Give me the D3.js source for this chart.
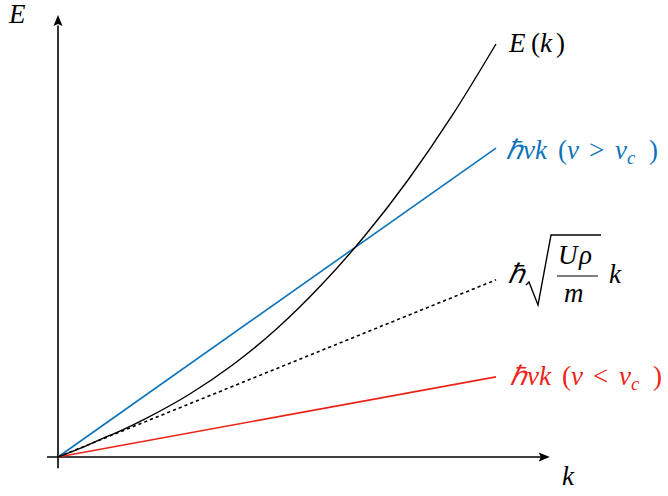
<!DOCTYPE html>
<html>
<head>
<meta charset="utf-8">
<script src="https://cdn.jsdelivr.net/npm/d3@7"></script>
<style>
  html, body { margin: 0; padding: 0; background: #fff; }
  svg { display: block; }
</style>
</head>
<body>
<svg id="chart" width="668" height="496"></svg>
<script>
// Wavenumber samples and the dispersion E(k)
const kSamples = [0, 0.05, 0.1, 0.15, 0.2, 0.3, 0.4, 0.5, 0.6, 0.7, 0.8, 0.9, 1.0];
const energySamples = [0, 0.021, 0.044, 0.067, 0.093, 0.152, 0.224, 0.311, 0.415, 0.535, 0.672, 0.827, 1.0];

// Linear branches E = slope * k
const lineNames = ["fast", "sound", "slow"];
const lineSlopes = [0.748, 0.429, 0.194];
const lineColors = ["#0b73ba", "#000000", "#ec2417"];
const lineDashes = [null, "3.2,3", null];

const SERIF = "Liberation Serif";
const svg = d3.select("#chart");

const x = d3.scaleLinear().domain([0, 1]).range([58, 496]);
const y = d3.scaleLinear().domain([0, 1]).range([457, 44]);

// Axes with arrow heads
const axisG = svg.append("g");
axisG.append("line")
  .attr("x1", x(-0.025)).attr("x2", x(1.107))
  .attr("y1", y(0)).attr("y2", y(0))
  .attr("stroke", "#000").attr("stroke-width", 1.6);
axisG.append("line")
  .attr("x1", x(0)).attr("x2", x(0))
  .attr("y1", y(-0.027)).attr("y2", y(1.045))
  .attr("stroke", "#000").attr("stroke-width", 1.6);

const tipX = x(1.1), tipY = y(1.07);
axisG.append("path")
  .attr("d", `M${tipX + 10},${y(0)} L${tipX - 1},${y(0) - 4.5} L${tipX + 1},${y(0)} L${tipX - 1},${y(0) + 4.5} Z`)
  .attr("fill", "#000");
axisG.append("path")
  .attr("d", `M${x(0)},${tipY} L${x(0) - 4.5},${tipY + 11} L${x(0)},${tipY + 9} L${x(0) + 4.5},${tipY + 11} Z`)
  .attr("fill", "#000");

// Linear branches
const lineGen = d3.line().x(d => x(d[0])).y(d => y(d[1]));
lineNames.forEach((name, i) => {
  svg.append("path")
    .datum([[0, 0], [1, lineSlopes[i]]])
    .attr("class", "branch-" + name)
    .attr("d", lineGen)
    .attr("fill", "none")
    .attr("stroke", lineColors[i])
    .attr("stroke-width", 1.6)
    .attr("stroke-dasharray", lineDashes[i]);
});

// Dispersion curve
const curveGen = d3.line()
  .x((d, i) => x(kSamples[i]))
  .y(d => y(d))
  .curve(d3.curveMonotoneX);
svg.append("path")
  .datum(energySamples)
  .attr("d", curveGen)
  .attr("fill", "none")
  .attr("stroke", "#000")
  .attr("stroke-width", 1.4);

// Math-style labels: each glyph group is its own text element at an offset
function mathText(parent, px, py, parts, color, size) {
  const g = parent.append("g").attr("transform", `translate(${px},${py})`);
  parts.forEach(p => {
    g.append("text")
      .attr("x", p.at)
      .attr("y", p.sub ? 5 : 0)
      .attr("font-family", SERIF)
      .attr("font-style", p.it ? "italic" : "normal")
      .attr("font-size", p.sub ? size * 0.7 : size)
      .attr("fill", color)
      .text(p.t);
  });
  return g;
}

const fs = 27;
mathText(svg, 9, 23, [{t: "E", it: true, at: 0}], "#000", fs);
mathText(svg, 562, 485, [{t: "k", it: true, at: 0}], "#000", fs);
mathText(svg, 509, 52, [
  {t: "E", it: true, at: 0}, {t: "(", at: 22}, {t: "k", it: true, at: 31}, {t: ")", at: 47}
], "#000", fs);

const labelParts = rel => [
  {t: "ℏ", it: true, at: 0}, {t: "v", it: true, at: 17}, {t: "k", it: true, at: 29},
  {t: "(", at: 52}, {t: "v", it: true, at: 61},
  {t: rel, at: 83}, {t: "v", it: true, at: 109},
  {t: "c", it: true, sub: true, at: 121}, {t: ")", at: 143}
];
mathText(svg, 506, 159, labelParts(">"), lineColors[0], fs);
mathText(svg, 510, 385, labelParts("<"), lineColors[2], fs);

// hbar * sqrt(U rho / m) * k
const sq = svg.append("g");
mathText(sq, 508, 283, [{t: "ℏ", it: true, at: 0}], "#000", fs);
sq.append("path")
  .attr("d", "M526,285 L529,282 L538,305 L551,235 L601,235")
  .attr("fill", "none").attr("stroke", "#000").attr("stroke-width", 1.4)
  .attr("stroke-linejoin", "miter");
mathText(sq, 558, 264, [{t: "U", it: true, at: 0}, {t: "ρ", it: true, at: 21}], "#000", fs);
sq.append("line")
  .attr("x1", 557).attr("x2", 598).attr("y1", 276).attr("y2", 276)
  .attr("stroke", "#000").attr("stroke-width", 1.2);
mathText(sq, 564, 302, [{t: "m", it: true, at: 0}], "#000", fs);
mathText(sq, 609, 283, [{t: "k", it: true, at: 0}], "#000", fs);
</script>
</body>
</html>
